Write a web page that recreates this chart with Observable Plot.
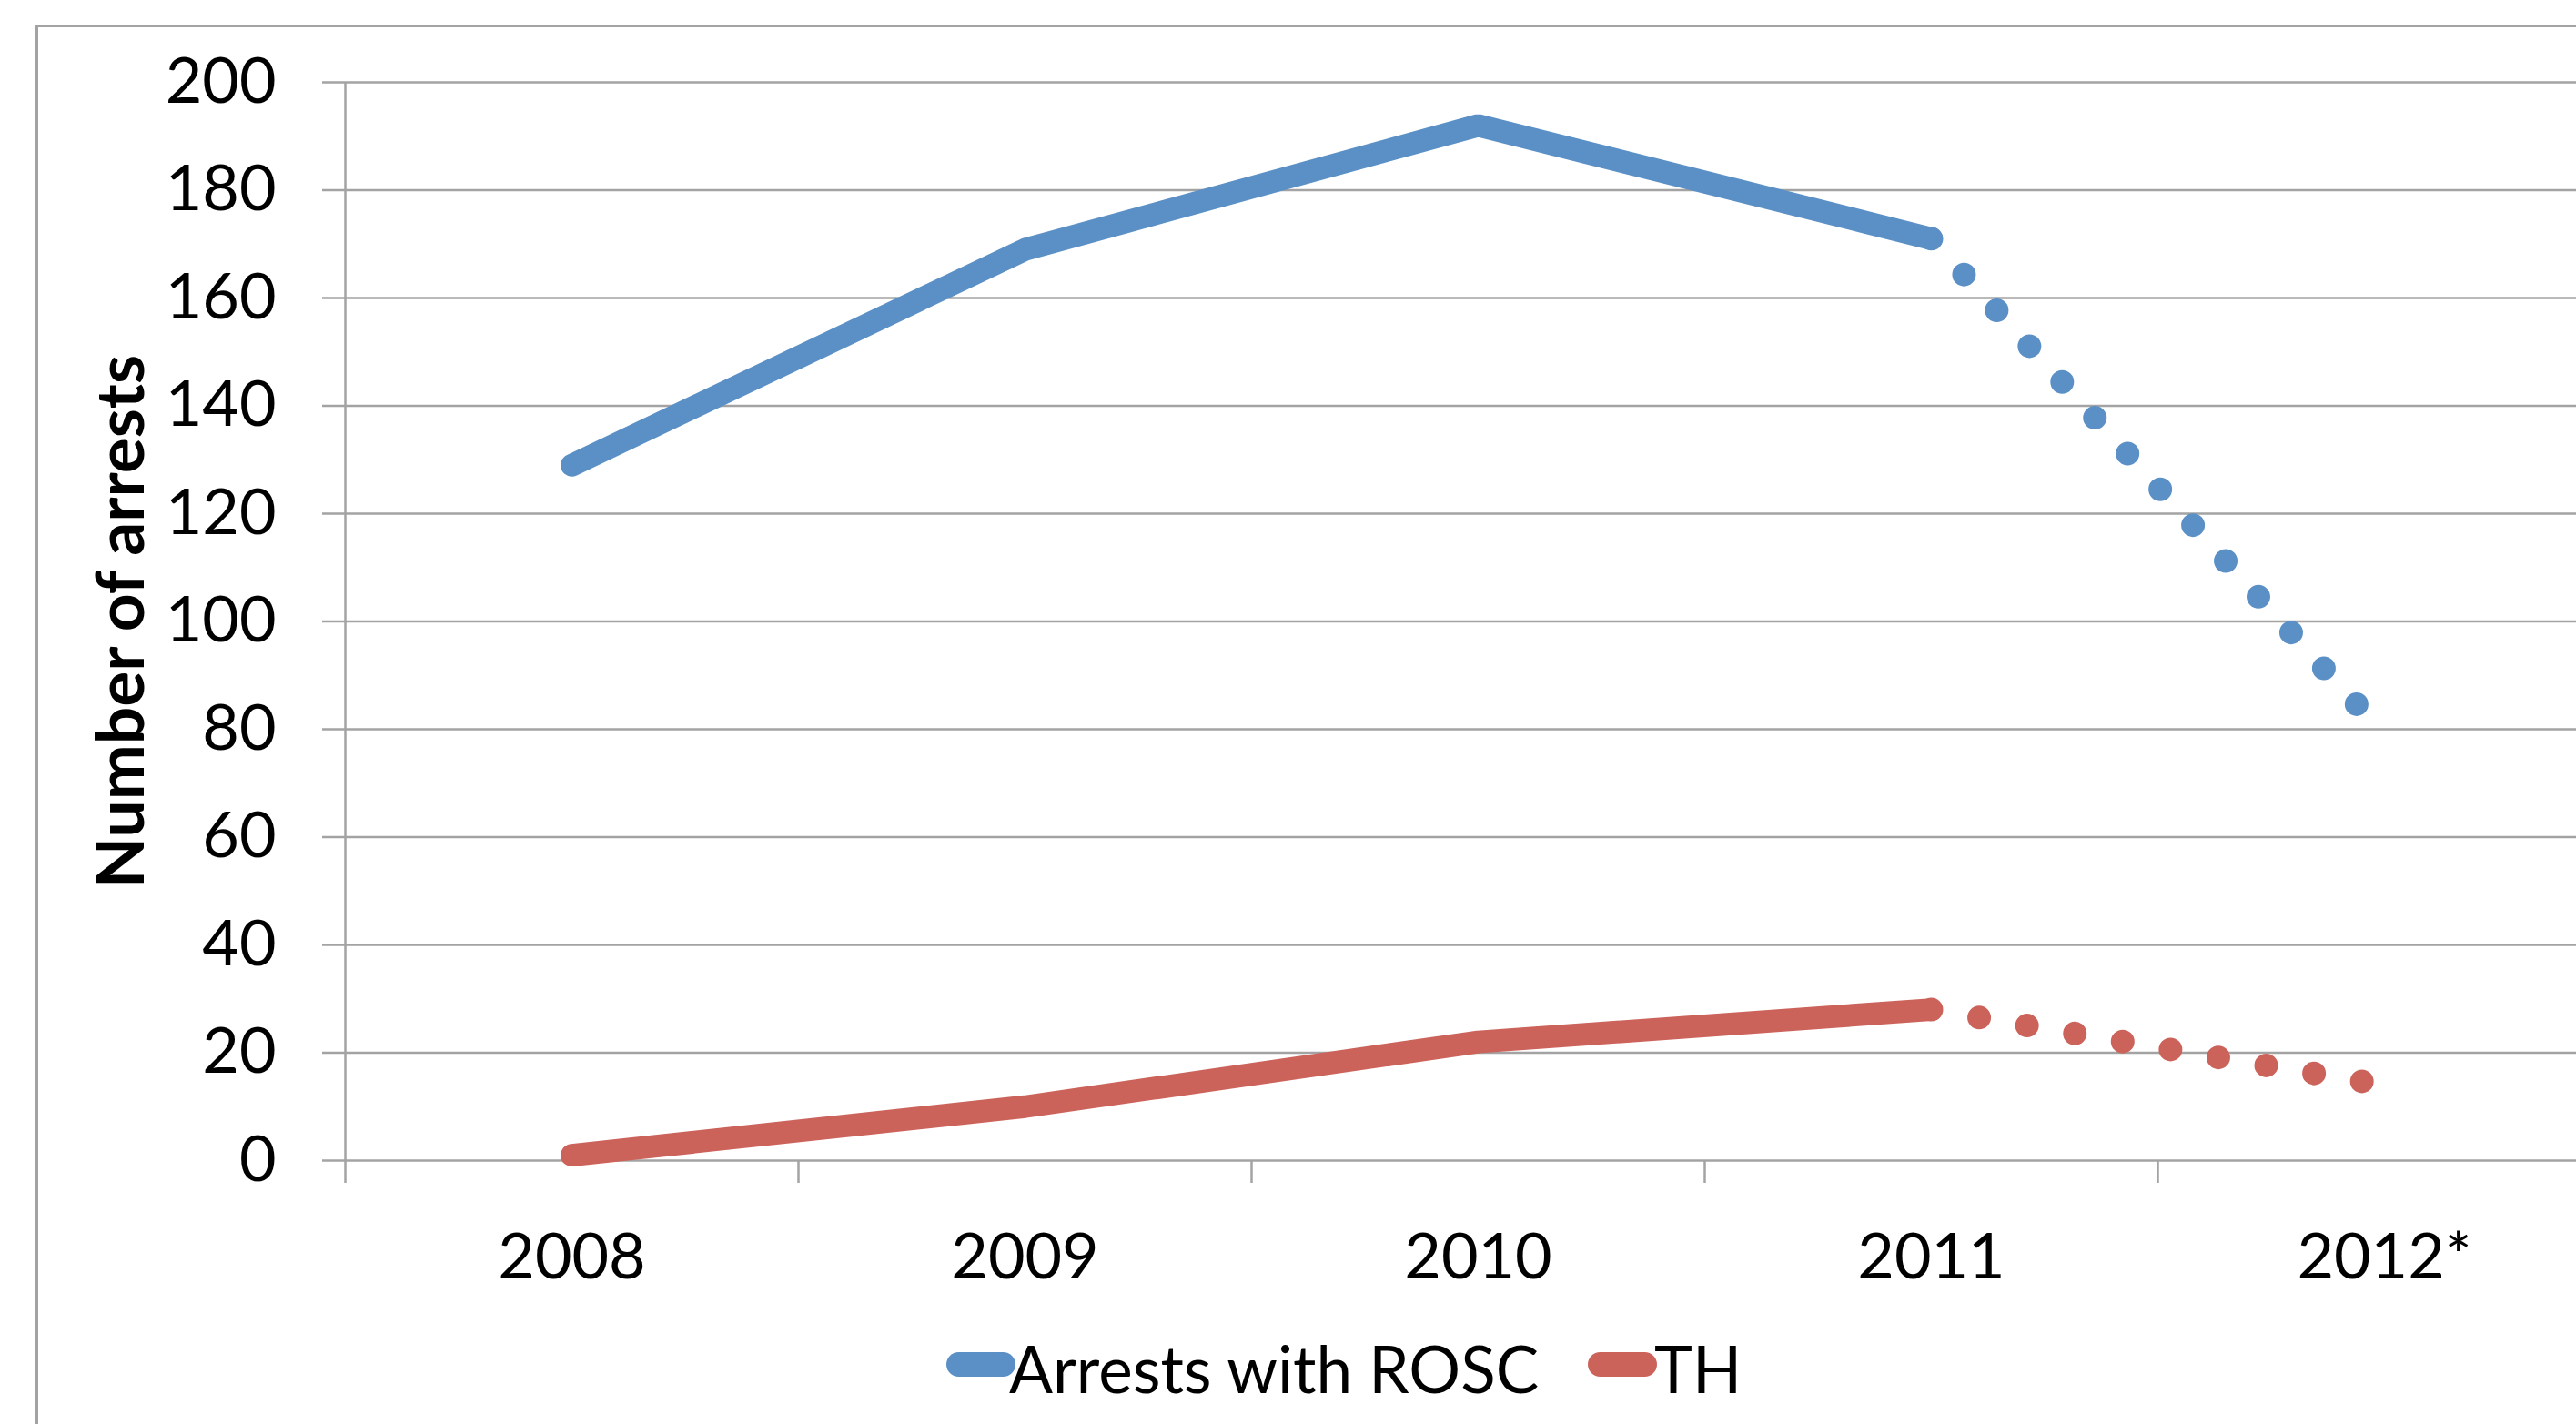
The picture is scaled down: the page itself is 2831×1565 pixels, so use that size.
<!DOCTYPE html>
<html>
<head>
<meta charset="utf-8">
<script src="https://cdn.jsdelivr.net/npm/d3@7"></script>
<script src="https://cdn.jsdelivr.net/npm/@observablehq/plot@0.6"></script>
<style>
  html, body { margin: 0; padding: 0; background: #fff; }
  body { width: 2831px; height: 1565px; overflow: hidden; position: relative; font-family: Lato, "Open Sans", sans-serif; }
  #frame { position: absolute; left: 39px; top: 27px; width: 3000px; height: 2000px; border: 3px solid #a3a3a3; box-sizing: border-box; }
  #chart { position: absolute; left: 0; top: 0; }
  #chart svg { overflow: visible; }
  .sw { position: absolute; height: 27px; border-radius: 13.5px; }
  .lt { position: absolute; font-size: 71px; line-height: 71px; color: #000; white-space: nowrap; }
</style>
</head>
<body>
<div id="frame"></div>
<div id="chart"></div>
<div id="legend"></div>
<script>
// ---- data ----
const categories = ["2008", "2009", "2010", "2011", "2012*"];
const seriesNames = ["Arrests with ROSC", "TH"];
const roscValues = [129, 169, 192, 171, 79];
const thValues = [1, 10, 22, 28, 14];
const seriesColors = ["#5B90C6", "#CC635B"];
const lastActualIndex = 3; // 2011: after this the line is dotted (2012* projected)
const yTicks = [0, 20, 40, 60, 80, 100, 120, 140, 160, 180, 200];

const seriesValues = [roscValues, thValues];
const solidRows = [];
const dottedRows = [];
seriesNames.forEach((name, s) => {
  seriesValues[s].forEach((v, i) => {
    const row = {series: name, i, value: v};
    if (i <= lastActualIndex) solidRows.push(row);
    if (i >= lastActualIndex) dottedRows.push(row);
  });
});

const gray = "#a3a3a3";
const W = 2831, H = 1460;

const chart = Plot.plot({
  width: W,
  height: H,
  marginLeft: 379,
  marginRight: 0,
  marginTop: 90,
  marginBottom: H - 1275,
  style: {fontFamily: "Lato, 'Open Sans', sans-serif", background: "transparent", color: "#000"},
  x: {type: "linear", domain: [0, categories.length], range: [379, 379 + 498 * categories.length]},
  y: {domain: [0, 200]},
  color: {domain: seriesNames, range: seriesColors},
  marks: [
    Plot.gridY({ticks: yTicks, stroke: gray, strokeOpacity: 1, strokeWidth: 2.5}),
    Plot.axisY({ticks: yTicks, tickSize: 25, tickPadding: 51, fontSize: 70, stroke: gray, strokeWidth: 2.5, strokeOpacity: 1, label: null, tickFormat: d => String(d)}),
    Plot.ruleX([0], {y1: 0, y2: 200, stroke: gray, strokeWidth: 2.5}),
    Plot.axisX({ticks: d3.range(categories.length + 1), tickSize: 25, tickFormat: () => "", stroke: gray, strokeWidth: 2.5, strokeOpacity: 1, label: null}),
    Plot.axisX({ticks: categories.map((_, i) => i + 0.5), tickSize: 0, tickPadding: 80, fontSize: 70, tickFormat: v => categories[Math.round(v - 0.5)], label: null}),
    Plot.text(["Number of arrests"], {frameAnchor: "left", textAnchor: "middle", dx: -245, rotate: -90, fontSize: 73, fontWeight: "bold", fill: "#000"}),
    Plot.line(solidRows, {x: d => d.i + 0.5, y: "value", z: "series", stroke: "series", strokeWidth: 25, strokeLinecap: "round", strokeLinejoin: "miter"}),
    Plot.line(dottedRows, {x: d => d.i + 0.5, y: "value", z: "series", stroke: "series", strokeWidth: 26, strokeLinecap: "round", strokeDasharray: "0 53.3"})
  ]
});
document.getElementById("chart").appendChild(chart);

// ---- legend (below the chart) ----
const legend = document.getElementById("legend");
const legendLayout = [
  {swLeft: 1040, textLeft: 1109},
  {swLeft: 1745, textLeft: 1818}
];
seriesNames.forEach((name, s) => {
  const sw = document.createElement("div");
  sw.className = "sw";
  sw.style.left = legendLayout[s].swLeft + "px";
  sw.style.top = "1486px";
  sw.style.width = "76px";
  sw.style.background = seriesColors[s];
  legend.appendChild(sw);
  const t = document.createElement("div");
  t.className = "lt";
  t.style.left = legendLayout[s].textLeft + "px";
  t.style.top = "1468px";
  t.textContent = name;
  legend.appendChild(t);
});
</script>
</body>
</html>
